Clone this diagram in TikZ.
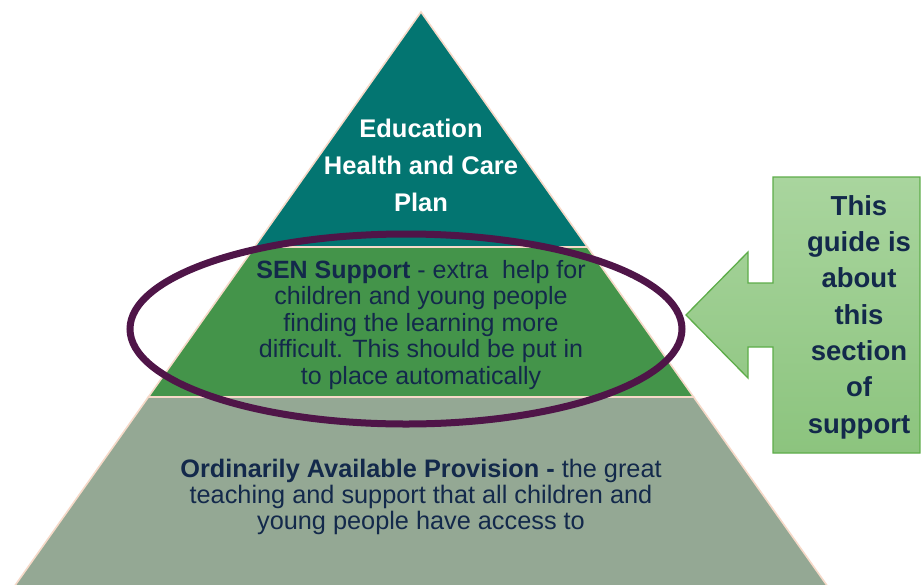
\documentclass[tikz,border=0pt]{standalone}
\usepackage{fontspec}
\setmainfont{Liberation Sans}
\definecolor{teal}{HTML}{037571}
\definecolor{midgreen}{HTML}{44944A}
\definecolor{sage}{HTML}{94A894}
\definecolor{peach}{HTML}{F6D9C8}
\definecolor{plum}{HTML}{4F1548}
\definecolor{navy}{HTML}{13294B}
\definecolor{calltop}{HTML}{A9D59E}
\definecolor{callbot}{HTML}{8CC47E}
\definecolor{callline}{HTML}{5EAD4A}
\tikzset{
  tier/.style={draw=peach, line width=1.6pt, line join=miter},
  tiertext/.style={inner sep=0pt, align=center, text=navy, font=\fontsize{25}{26.5}\selectfont},
}
\begin{document}
\begin{tikzpicture}[x=1pt,y=-1pt]
\useasboundingbox[fill=white] (0,0) rectangle (921,584);
% tiers
\path[tier, fill=sage] (148.4,397) -- (693.6,397) -- (830.2,590) -- (11.8,590) -- cycle;
\path[tier, fill=midgreen] (254.6,247) -- (587.4,247) -- (693.6,397) -- (148.4,397) -- cycle;
\path[tier, fill=teal] (421,12) -- (587.4,247) -- (254.6,247) -- cycle;
% texts
\node[inner sep=0pt, align=center, text=white, font=\fontsize{25.5}{37}\selectfont\bfseries] (ehcp) at (421,165.5)
  {Education\\Health and Care\\Plan};
\node[tiertext] (sen) at (421,325)
  {\textbf{SEN Support} - extra\ \ help for\\children and young people\\finding the learning more\\difficult. This should be put in\\to place automatically};
\node[tiertext, font=\fontsize{25.3}{26.3}\selectfont] (oap) at (421,497)
  {\textbf{Ordinarily Available Provision -} the great\\teaching and support that all children and\\young people have access to};
% ellipse
\draw[plum, line width=7pt] (406,329) ellipse [x radius=276, y radius=95];
% callout arrow
\path[top color=calltop, bottom color=callbot, draw=callline, line width=1.3pt, line join=miter]
  (920,177) -- (773,177) -- (773,283) -- (748,283) -- (748,252) -- (686,315) -- (748,378) -- (748,347) -- (773,347) -- (773,453) -- (920,453) -- cycle;
\node[inner sep=0pt, align=center, text=navy, font=\fontsize{27.5}{36.3}\selectfont\bfseries] (guide) at (859,317)
  {This\\guide is\\about\\this\\section\\of\\support};
\end{tikzpicture}
\end{document}
